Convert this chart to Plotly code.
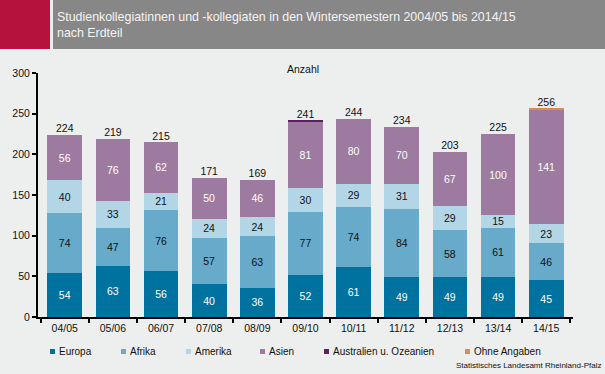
import plotly.graph_objects as go

categories = ["04/05", "05/06", "06/07", "07/08", "08/09", "09/10", "10/11", "11/12", "12/13", "13/14", "14/15"]
europa = [54, 63, 56, 40, 36, 52, 61, 49, 49, 49, 45]
afrika = [74, 47, 76, 57, 63, 77, 74, 84, 58, 61, 46]
amerika = [40, 33, 21, 24, 24, 30, 29, 31, 29, 15, 23]
asien = [56, 76, 62, 50, 46, 81, 80, 70, 67, 100, 141]
australien = [0, 0, 0, 0, 0, 1, 0, 0, 0, 0, 0]
ohne_angaben = [0, 0, 0, 0, 0, 0, 0, 0, 0, 0, 1]
totals = [224, 219, 215, 171, 169, 241, 244, 234, 203, 225, 256]

series = [
    ("Europa", europa, "#00729F", "white", True),
    ("Afrika", afrika, "#67AACA", "#111111", True),
    ("Amerika", amerika, "#B2D6E6", "#111111", True),
    ("Asien", asien, "#9D7BA0", "white", True),
    ("Australien u. Ozeanien", australien, "#5C1F60", "white", False),
    ("Ohne Angaben", ohne_angaben, "#E08A4F", "white", False),
]

FONT = "Liberation Sans, Arial, sans-serif"
BG = "#EDEFEE"

# plot area in pixels
PX0, PX1, PY0, PY1 = 38, 573, 73, 317


def px2x(px):
    return (px - PX0) / (PX1 - PX0)


def py2y(py):
    return (PY1 - py) / (PY1 - PY0)


fig = go.Figure()
for name, vals, color, tcolor, show in series:
    fig.add_trace(go.Bar(
        name=name, x=categories, y=vals,
        marker=dict(color=color, line=dict(width=0)),
        text=[str(v) if show and v > 0 else "" for v in vals],
        textposition="inside", insidetextanchor="middle", textangle=0,
        constraintext="none",
        textfont=dict(family=FONT, size=10.5, color=tcolor),
        showlegend=False, hoverinfo="x+y+name",
    ))

fig.add_trace(go.Scatter(
    x=categories, y=totals, mode="text", text=[str(t) for t in totals],
    textposition="top center", textfont=dict(family=FONT, size=10.5, color="#111111"),
    showlegend=False, cliponaxis=False, hoverinfo="skip",
))

shapes = [
    dict(type="rect", xref="paper", yref="paper", x0=px2x(0), x1=px2x(50), y0=py2y(0), y1=py2y(49),
         fillcolor="#B5123E", line=dict(width=0), layer="above"),
    dict(type="rect", xref="paper", yref="paper", x0=px2x(53), x1=px2x(605), y0=py2y(0), y1=py2y(49),
         fillcolor="#878787", line=dict(width=0), layer="above"),
]
annotations = [
    dict(text="Studienkollegiatinnen und -kollegiaten in den Wintersemestern 2004/05 bis 2014/15<br>nach Erdteil",
         xref="paper", yref="paper", x=px2x(55), y=py2y(25), xanchor="left", yanchor="middle",
         align="left", showarrow=False, font=dict(family=FONT, size=12.4, color="#F4F4F4")),
    dict(text="Anzahl", xref="paper", yref="paper", x=px2x(303), y=py2y(69), xanchor="center",
         yanchor="middle", showarrow=False, font=dict(family=FONT, size=10.5, color="#111111")),
    dict(text="Statistisches Landesamt Rheinland-Pfalz", xref="paper", yref="paper", x=px2x(603),
         y=py2y(365), xanchor="right", yanchor="middle", showarrow=False,
         font=dict(family=FONT, size=8, color="#111111")),
]

legend_pos = [50, 121, 186, 260, 324, 465]
for (name, vals, color, tcolor, show), lx in zip(series, legend_pos):
    shapes.append(dict(type="rect", xref="paper", yref="paper", x0=px2x(lx), x1=px2x(lx + 5),
                       y0=py2y(354), y1=py2y(349), fillcolor=color, line=dict(width=0)))
    annotations.append(dict(text=name, xref="paper", yref="paper", x=px2x(lx + 7), y=py2y(351.5),
                            xanchor="left", yanchor="middle", showarrow=False,
                            font=dict(family=FONT, size=10, color="#111111")))

fig.update_layout(
    width=605, height=374, barmode="stack", bargap=0.28,
    paper_bgcolor=BG, plot_bgcolor=BG,
    margin=dict(l=PX0, r=605 - PX1, t=PY0, b=374 - PY1, pad=0),
    font=dict(family=FONT, size=10, color="#111111"),
    shapes=shapes, annotations=annotations, showlegend=False,
    xaxis=dict(showgrid=False, showline=True, linecolor="black", linewidth=2,
               ticks="outside", tickson="boundaries", ticklen=4, tickwidth=2, tickcolor="black",
               tickfont=dict(family=FONT, size=10.5, color="#111111")),
    yaxis=dict(range=[0, 300], dtick=50, showgrid=False, zeroline=False, showline=True,
               linecolor="black", linewidth=2, ticks="outside", ticklen=4, tickwidth=1.5,
               tickcolor="black", tickfont=dict(family=FONT, size=10.5, color="#111111")),
)

fig.write_html(
    "out.html",
    config={"displayModeBar": False},
    post_script="document.body.style.margin='0';document.body.style.padding='0';"
                "document.body.style.overflow='hidden';document.body.style.background='%s';" % BG,
)
